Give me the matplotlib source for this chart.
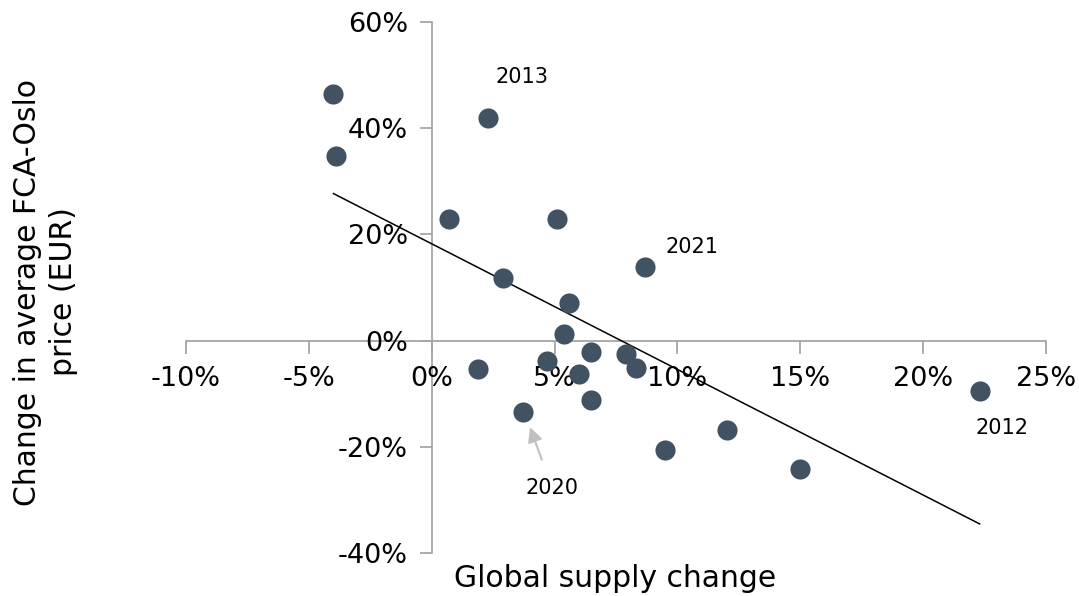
import numpy as np
import matplotlib
matplotlib.use("Agg")
import matplotlib.pyplot as plt
from matplotlib.ticker import FuncFormatter

# Data (percent)
supply_change = [-4.0, -3.9, 2.3, 0.7, 5.1, 2.9, 8.7, 5.6, 5.4, 1.9, 4.7,
                 6.5, 7.9, 6.0, 8.3, 6.5, 3.7, 22.3, 12.0, 9.5, 15.0]
price_change = [46.5, 34.7, 42.0, 22.9, 22.9, 11.8, 13.9, 7.1, 1.3, -5.3, -3.9,
                -2.1, -2.6, -6.2, -5.1, -11.1, -13.5, -9.4, -16.9, -20.6, -24.2]

labels = ["2013", "2021", "2012", "2020"]
label_pos = [(3.66, 49.7), (10.6, 17.6), (23.2, -16.5), (4.9, -27.8)]

x_ticks = [-10, -5, 0, 5, 10, 15, 20, 25]
y_ticks = [-40, -20, 0, 20, 40, 60]

DOT = "#415363"
AXIS = "#a6a6a6"

plt.rcParams["font.family"] = "DejaVu Sans"

fig = plt.figure(figsize=(10.79, 5.96), dpi=100)
ax = fig.add_axes([0.1724, 0.0721, 0.797, 0.891])

x = np.array(supply_change)
y = np.array(price_change)

ax.scatter(x, y, s=210, color=DOT, zorder=3, linewidths=0)

# linear trendline
k, b = np.polyfit(x, y, 1)
xs = np.array([x.min(), x.max()])
ax.plot(xs, k * xs + b, color="black", lw=1.1, zorder=2)

ax.set_xlim(-10, 25)
ax.set_ylim(-40, 60)
ax.set_xticks(x_ticks)
ax.set_yticks(y_ticks)
pct = FuncFormatter(lambda v, p: f"{v:.0f}%")
ax.xaxis.set_major_formatter(pct)
ax.yaxis.set_major_formatter(pct)

for s in ["top", "right"]:
    ax.spines[s].set_visible(False)
ax.spines["left"].set_position(("data", 0))
ax.spines["bottom"].set_position(("data", 0))
for s in ["left", "bottom"]:
    ax.spines[s].set_color(AXIS)
    ax.spines[s].set_linewidth(1.3)
    ax.spines[s].set_zorder(1)

ax.tick_params(axis="both", direction="out", length=9, width=1.3,
               color=AXIS, labelsize=19.5, labelcolor="black")
ax.tick_params(axis="x", pad=9)
ax.tick_params(axis="y", pad=8)

# year annotations
for lab, (tx, ty) in zip(labels, label_pos):
    if lab == "2020":
        ax.annotate(lab, xy=(4.0, -16.3), xytext=(tx, ty),
                    ha="center", va="center", fontsize=15,
                    arrowprops=dict(arrowstyle="-|>", color="#c0c0c0",
                                    lw=1.5, mutation_scale=22,
                                    shrinkA=12, shrinkB=0))
    else:
        ax.text(tx, ty, lab, ha="center", va="center", fontsize=15)

fig.text(0.042, 0.51, "Change in average FCA-Oslo\nprice (EUR)",
         rotation=90, ha="center", va="center", fontsize=21.5,
         linespacing=1.3)
fig.text(0.57, 0.03, "Global supply change", ha="center", va="center",
         fontsize=21.5)

fig.savefig("out.png", dpi=100)
